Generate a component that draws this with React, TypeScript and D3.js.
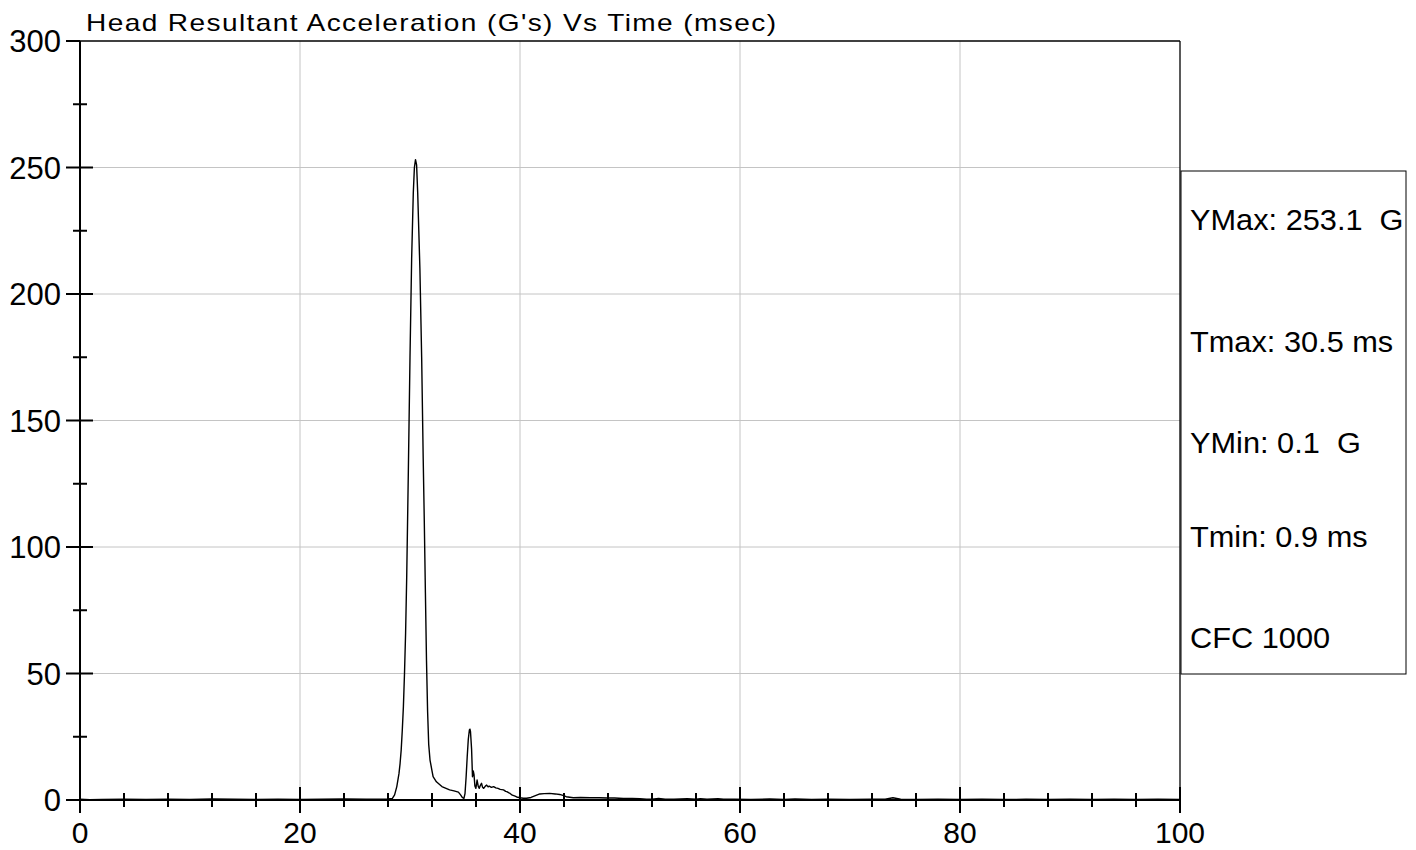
import React from "react";
import * as d3 from "d3";

// Head resultant acceleration samples: [time (ms), acceleration (G)]
const headAccel: [number, number][] = [
  [0, 0.3], [0.9, 0.1], [2, 0.2], [4, 0.3], [6, 0.2], [8, 0.3], [10, 0.2], [12, 0.4],
  [14, 0.3], [16, 0.2], [18, 0.3], [20, 0.2], [22, 0.3], [24, 0.4], [26, 0.3], [27, 0.3],
  [28, 0.4], [28.4, 0.6], [28.6, 2.0], [28.8, 5.3], [29.0, 10.5], [29.1, 14.5], [29.2, 19.8],
  [29.3, 27.7], [29.4, 36.9], [29.5, 50], [29.6, 66], [29.7, 88], [29.85, 130], [30.0, 175],
  [30.15, 214], [30.3, 240], [30.4, 250], [30.5, 253.1], [30.6, 251], [30.7, 240], [30.8, 225],
  [30.9, 210], [31.06, 175], [31.2, 135], [31.3, 110], [31.4, 82], [31.5, 55], [31.6, 35],
  [31.7, 22], [31.82, 15.8], [32.0, 11.5], [32.1, 9.2], [32.4, 7.2], [32.9, 5.3], [33.6, 4.0],
  [34.0, 3.6], [34.4, 3.1], [34.6, 2.0], [34.75, 1.0], [34.9, 0.6], [35.0, 2.5], [35.1, 9],
  [35.2, 17], [35.3, 24], [35.4, 27.7], [35.45, 28], [35.5, 27], [35.6, 20], [35.68, 9.2],
  [35.75, 11.5], [35.82, 10], [35.9, 5.5], [35.99, 4.6], [36.1, 7.9], [36.2, 5.5], [36.3, 4.6],
  [36.4, 5.8], [36.5, 6.6], [36.6, 5.0], [36.7, 4.6], [36.85, 5.5], [36.97, 5.9], [37.1, 5.2],
  [37.2, 5.5], [37.4, 5.0], [37.6, 5.3], [37.8, 4.8], [38.0, 4.6], [38.2, 4.2], [38.5, 4.0],
  [38.7, 3.4], [38.8, 3.3], [39.0, 2.8], [39.1, 2.6], [39.3, 1.9], [39.5, 1.6], [39.7, 1.2],
  [40.0, 0.9], [40.3, 0.7], [40.6, 0.7], [41.0, 1.0], [41.4, 1.7], [41.8, 2.4], [42.2, 2.5],
  [42.7, 2.6], [43.2, 2.4], [43.6, 2.2], [43.9, 1.8], [44.2, 1.3], [44.85, 0.9], [45.5, 1.0],
  [46.4, 0.9], [47.2, 0.9], [47.9, 0.8], [48.6, 0.8], [49.4, 0.6], [50.2, 0.6], [50.9, 0.5],
  [51.5, 0.3], [52.0, 0.3], [52.6, 0.6], [53.2, 0.3], [54.0, 0.3], [55.2, 0.5], [56.0, 0.3],
  [56.4, 0.5], [57.0, 0.3], [57.5, 0.4], [58.0, 0.5], [58.5, 0.3], [59.5, 0.3], [61, 0.2],
  [62.7, 0.4], [64, 0.2], [65, 0.4], [66.5, 0.2], [68, 0.3], [70, 0.2], [72, 0.3], [73.2, 0.3],
  [73.9, 0.9], [74.6, 0.3], [76, 0.2], [78, 0.3], [80, 0.2], [82, 0.3], [84, 0.2], [86, 0.3],
  [88, 0.2], [90, 0.3], [92, 0.2], [94, 0.3], [96, 0.2], [98, 0.3], [100, 0.2],
];

const xMajorTicks = [0, 20, 40, 60, 80, 100];
const xMinorTicks = [4, 8, 12, 16, 24, 28, 32, 36, 44, 48, 52, 56, 64, 68, 72, 76, 84, 88, 92, 96];
const yMajorTicks = [0, 50, 100, 150, 200, 250, 300];
const yMinorTicks = [25, 75, 125, 175, 225, 275];

const title = "Head Resultant Acceleration (G's) Vs Time (msec)";
const infoLines = ["YMax: 253.1  G", "Tmax: 30.5 ms", "YMin: 0.1  G", "Tmin: 0.9 ms", "CFC 1000"];

const W = 1416;
const H = 850;
const FONT = "'Liberation Sans', Arial, sans-serif";

export default function App() {
  const x = d3.scaleLinear().domain([0, 100]).range([80, 1180]);
  const y = d3.scaleLinear().domain([0, 300]).range([800, 41]);
  const line = d3
    .line<[number, number]>()
    .x((d) => x(d[0]))
    .y((d) => y(d[1]));

  const infoY = [230, 352, 453, 547, 648];
  const titleScale = 1.22;
  const infoScale = 1.06;

  return (
    <svg
      width={W}
      height={H}
      style={{ position: "absolute", left: 0, top: 0, background: "#fff" }}
      fontFamily={FONT}
    >
      <rect x={0} y={0} width={W} height={H} fill="#fff" />
      {/* grid */}
      {xMajorTicks.slice(1, -1).map((t) => (
        <line key={"gx" + t} x1={x(t)} x2={x(t)} y1={y(300)} y2={y(0)} stroke="#c4c4c4" strokeWidth={1} />
      ))}
      {yMajorTicks.slice(1, -1).map((t) => (
        <line key={"gy" + t} x1={x(0)} x2={x(100)} y1={y(t)} y2={y(t)} stroke="#c4c4c4" strokeWidth={1} />
      ))}
      {/* frame top & right */}
      <line x1={x(0)} x2={x(100)} y1={y(300)} y2={y(300)} stroke="#000" strokeWidth={1.3} />
      <line x1={x(100)} x2={x(100)} y1={y(300)} y2={y(0)} stroke="#000" strokeWidth={1.3} />
      {/* curve */}
      <path d={line(headAccel) || ""} fill="none" stroke="#000" strokeWidth={1.4} strokeLinejoin="round" />
      {/* axes */}
      <line x1={66} x2={x(100)} y1={y(0)} y2={y(0)} stroke="#000" strokeWidth={2} />
      <line x1={x(0)} x2={x(0)} y1={y(300)} y2={813} stroke="#000" strokeWidth={2} />
      {xMajorTicks.map((t) => (
        <line key={"xM" + t} x1={x(t)} x2={x(t)} y1={787} y2={813} stroke="#000" strokeWidth={2} />
      ))}
      {xMinorTicks.map((t) => (
        <line key={"xm" + t} x1={x(t)} x2={x(t)} y1={793} y2={807} stroke="#000" strokeWidth={2} />
      ))}
      {yMajorTicks.map((t) => (
        <line key={"yM" + t} x1={66} x2={t === 300 ? 80 : 93} y1={y(t)} y2={y(t)} stroke="#000" strokeWidth={2} />
      ))}
      {yMinorTicks.map((t) => (
        <line key={"ym" + t} x1={73} x2={87} y1={y(t)} y2={y(t)} stroke="#000" strokeWidth={2} />
      ))}
      {/* tick labels */}
      {yMajorTicks.map((t) => (
        <text key={"yl" + t} x={61} y={y(t) + 11} textAnchor="end" fontSize={31} fill="#000">
          {t}
        </text>
      ))}
      {xMajorTicks.map((t) => (
        <text key={"xl" + t} x={x(t)} y={843} textAnchor="middle" fontSize={30} fill="#000">
          {t}
        </text>
      ))}
      {/* title */}
      <g transform={`translate(86,31) scale(${titleScale},1)`}>
        <text x={0} y={0} fontSize={23} textLength={690 / titleScale} lengthAdjust="spacing" fill="#000">
          {title}
        </text>
      </g>
      {/* info box */}
      <rect x={1181} y={171} width={225} height={503} fill="#fff" stroke="#000" strokeWidth={1} />
      {infoLines.map((s, i) => (
        <g key={"info" + i} transform={`translate(1190,${infoY[i]}) scale(${infoScale},1)`}>
          <text x={0} y={0} fontSize={29} fill="#000" style={{ whiteSpace: "pre" }}>
            {s}
          </text>
        </g>
      ))}
    </svg>
  );
}
